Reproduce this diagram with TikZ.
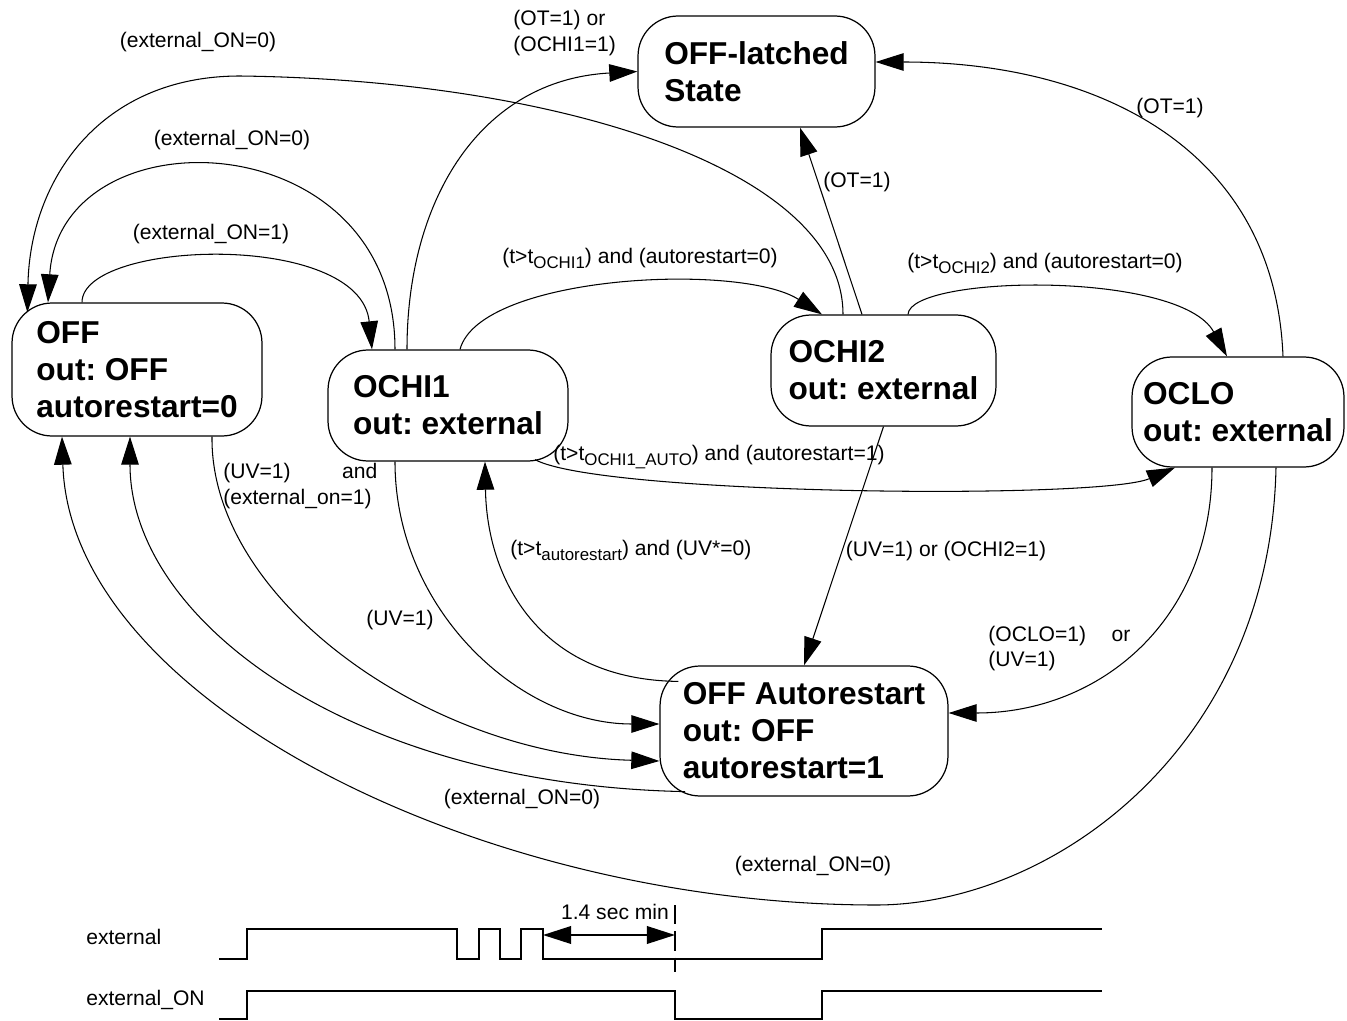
\documentclass[tikz,border=0pt]{standalone}
\usepackage{fontspec}
\setmainfont{Liberation Sans}
\usetikzlibrary{arrows.meta,calc}
\newcommand{\lsub}[1]{\raisebox{-3pt}{\fontsize{9.6}{10}\selectfont #1}}

\begin{document}
\frenchspacing
\begin{tikzpicture}[x=0.02cm, y=-0.02cm,
    state/.style={draw, line width=0.7pt, rounded corners=0.8cm, align=left,
      inner sep=2pt, font=\bfseries\fontsize{18}{21}\selectfont},
    lbl/.style={inner sep=0pt, font=\fontsize{12}{14.7}\selectfont},
    arr/.style={line width=0.6pt, -{Triangle[length=16pt, width=10pt]}},
    sig/.style={line width=1.1pt}]
  \useasboundingbox (0,0) rectangle (1347,1021);

  \node[state, minimum width=4.74cm, minimum height=2.22cm] (latched) at (756.5,71.5) {OFF-latched\\State};
  \node[state, minimum width=5.0cm, minimum height=2.66cm] (off) at (137,369.5) {OFF\\out: OFF\\autorestart=0};
  \node[state, minimum width=4.8cm, minimum height=2.22cm] (ochi1) at (448,405.5) {OCHI1\\out: external};
  \node[state, minimum width=4.5cm, minimum height=2.22cm] (ochi2) at (883.5,370.5) {OCHI2\\out: external};
  \node[state, minimum width=4.24cm, minimum height=2.2cm] (oclo) at (1238,412) {OCLO\\out: external};
  \node[state, minimum width=5.76cm, minimum height=2.6cm] (offauto) at (804,731) {OFF Autorestart\\out: OFF\\autorestart=1};

  \draw[arr] ($(off.north)+(-55,0)$) .. controls (82,240) and (360,230) .. ($(ochi1.north)+(-76,0)$);
  \draw[arr] ($(ochi1.north)+(-53,0)$) .. controls (395,120) and (60,110) .. ($(off.north)+(-89,0)$);
  \draw[arr] ($(ochi2.north)+(-40.5,0)$) .. controls (843,170) and (560,80) .. (240,76)
             .. controls (100,76) and (30,180) .. ($(off.north west)+(16,10)$);
  \draw[arr] ($(ochi1.north)+(-41,0)$) .. controls (407,200) and (480,80) .. (latched.west);
  \draw[arr] ($(ochi2.north)+(-21.5,0)$) -- ($(latched.south)+(43.5,0)$);
  \draw[arr] ($(oclo.north)+(45,0)$) .. controls (1275,150) and (1100,62) .. ($(latched.east)+(0,-9.5)$);
  \draw[arr] ($(ochi1.north)+(12,0)$) .. controls (480,275) and (740,262) .. ($(ochi2.north)+(-61.5,0)$);
  \draw[arr] ($(ochi2.north)+(24.5,0)$) .. controls (910,275) and (1180,270) .. ($(oclo.north)+(-11,0)$);
  \draw[arr] ($(ochi1.south)+(87,-2)$) .. controls (600,495) and (1100,500) .. ($(oclo.south)+(-63,0)$);
  \draw[arr] (ochi2.south) -- (offauto.north);
  \draw[arr] ($(oclo.south)+(-26,0)$) .. controls (1212,620) and (1100,713) .. ($(offauto.east)+(0,-18)$);
  \draw[arr] ($(oclo.south)+(38,0)$) .. controls (1270,750) and (1050,905) .. (876,905)
             .. controls (480,905) and (70,700) .. ($(off.south)+(-75,0)$);
  \draw[arr] ($(offauto.south)+(-119,-5)$) .. controls (350,785) and (130,620) .. ($(off.south)+(-7,0)$);
  \draw[arr] ($(off.south)+(75,0)$) .. controls (210,600) and (430,755) .. ($(offauto.west)+(0,30)$);
  \draw[arr] ($(ochi1.south)+(-53,0)$) .. controls (395,610) and (520,724) .. ($(offauto.west)+(0,-7)$);
  \draw[arr] ($(offauto.north west)+(19,16)$) .. controls (540,680) and (487,580) .. ($(ochi1.south)+(37,0)$);

  \node[lbl] (l1) at (211,234) {(external\_ON=1)};
  \node[lbl] (l2) at (232,140) {(external\_ON=0)};
  \node[lbl] (l3) at (198,42) {(external\_ON=0)};
  \node[lbl, align=left, anchor=west] (l4) at (513,33) {(OT=1) or\\(OCHI1=1)};
  \node[lbl] (l5) at (857,182) {(OT=1)};
  \node[lbl] (l6) at (1170,108) {(OT=1)};
  \node[lbl, anchor=base west] (l7) at (502,263.5) {(t>t\lsub{OCHI1}) and (autorestart=0)};
  \node[lbl, anchor=base west] (l8) at (907,268.5) {(t>t\lsub{OCHI2}) and (autorestart=0)};
  \node[lbl, anchor=base west] (l9) at (553,460.5) {(t>t\lsub{OCHI1\_AUTO}) and (autorestart=1)};
  \node[lbl] (l10) at (946,551) {(UV=1) or (OCHI2=1)};
  \node[lbl, text width=2.84cm, align=left, anchor=west] (l11) at (988,648.5) {(OCLO=1)\hfill or\\(UV=1)};
  \node[lbl] (l12) at (813,866) {(external\_ON=0)};
  \node[lbl] (l13) at (522,799) {(external\_ON=0)};
  \node[lbl, text width=3.08cm, align=left, anchor=west] (l14) at (223,486) {(UV=1)\hfill and\\(external\_on=1)};
  \node[lbl] (l15) at (400,620) {(UV=1)};
  \node[lbl, anchor=base west] (l16) at (510,555.5) {(t>t\lsub{autorestart}) and (UV*=0)};

  \node[lbl, anchor=west] (tx) at (86,937) {external};
  \node[lbl, anchor=west] (ton) at (86,1000) {external\_ON};
  \draw[sig] (219,959) -- (247,959) -- (247,929) -- (457,929) -- (457,959) -- (479,959) --
             (479,929) -- (500,929) -- (500,959) -- (521,959) -- (521,929) -- (543,929) --
             (543,959) -- (822,959) -- (822,929) -- (1102,929);
  \draw[sig] (219,1019) -- (247,1019) -- (247,991) -- (675,991) -- (675,1019) --
             (822,1019) -- (822,991) -- (1102,991);
  \draw[line width=0.6pt, dash pattern=on 11pt off 4pt] (675,905) -- (675,972);
  \draw[sig, {Triangle[length=16pt, width=10pt]}-{Triangle[length=16pt, width=10pt]}] (543,935) -- (675,935);
  \node[lbl] (dt) at (615,912) {1.4 sec min};
\end{tikzpicture}
\end{document}
